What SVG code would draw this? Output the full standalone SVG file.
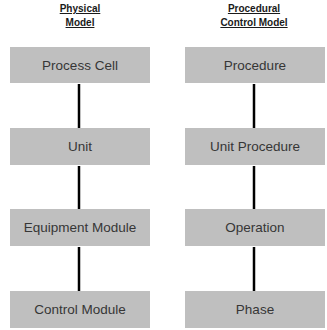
<svg xmlns="http://www.w3.org/2000/svg" width="327" height="330" viewBox="0 0 327 330">
<style>
.box{fill:#bfbfbf}
.lbl{font-family:"Liberation Sans",Arial,sans-serif;font-size:13.5px;fill:#363636;text-anchor:middle}
.hdr{font-family:"Liberation Sans",Arial,sans-serif;font-size:10px;font-weight:bold;fill:#1a1a1a;text-anchor:middle;text-decoration:underline}
.con{stroke:#000;stroke-width:2.5;fill:none}
</style>
<rect width="327" height="330" fill="#fff"/>
<g id="headers">
<text class="hdr" x="80" y="12">Physical</text>
<text class="hdr" x="80" y="26">Model</text>
<text class="hdr" x="254" y="12">Procedural </text>
<text class="hdr" x="254" y="26">Control Model</text>
</g>
<g id="connectors">
<line class="con" x1="79" y1="84" x2="79" y2="128"/>
<line class="con" x1="79" y1="166" x2="79" y2="209"/>
<line class="con" x1="79" y1="247" x2="79" y2="291"/>
<line class="con" x1="254" y1="84" x2="254" y2="128"/>
<line class="con" x1="254" y1="166" x2="254" y2="209"/>
<line class="con" x1="254" y1="247" x2="254" y2="291"/>
</g>
<g id="process-cell"><rect class="box" x="10" y="47" width="140" height="36"/><text class="lbl" x="80" y="70">Process Cell</text></g>
<g id="unit"><rect class="box" x="10" y="128" width="140" height="37"/><text class="lbl" x="80" y="151">Unit</text></g>
<g id="equipment-module"><rect class="box" x="10" y="209" width="140" height="37"/><text class="lbl" x="80" y="232">Equipment Module</text></g>
<g id="control-module"><rect class="box" x="10" y="291" width="140" height="37"/><text class="lbl" x="80" y="314">Control Module</text></g>
<g id="procedure"><rect class="box" x="185" y="47" width="140" height="36"/><text class="lbl" x="255" y="70">Procedure</text></g>
<g id="unit-procedure"><rect class="box" x="185" y="128" width="140" height="37"/><text class="lbl" x="255" y="151">Unit Procedure</text></g>
<g id="operation"><rect class="box" x="185" y="209" width="140" height="37"/><text class="lbl" x="255" y="232">Operation</text></g>
<g id="phase"><rect class="box" x="185" y="291" width="140" height="37"/><text class="lbl" x="255" y="314">Phase</text></g>
</svg>
